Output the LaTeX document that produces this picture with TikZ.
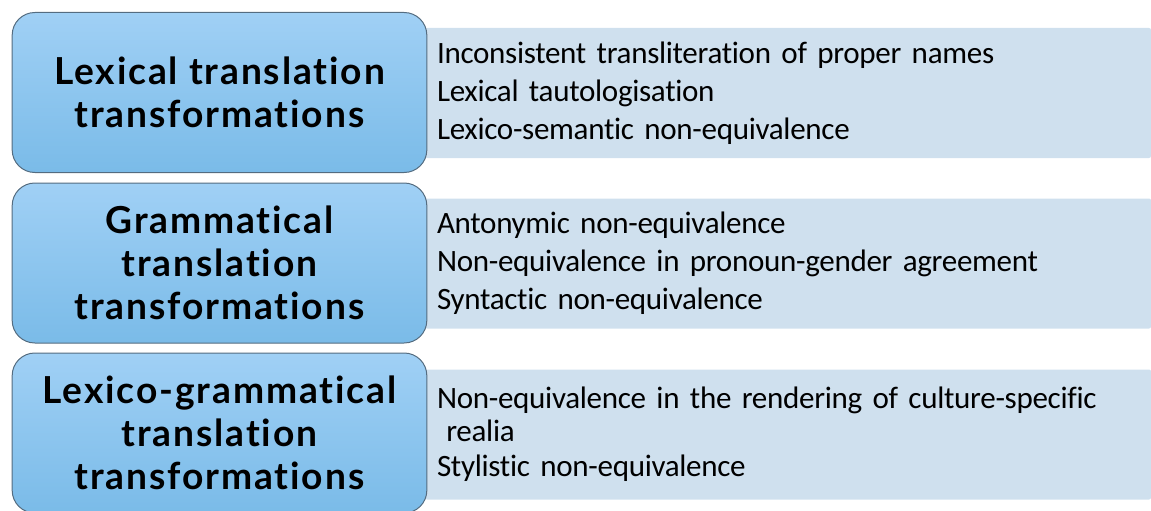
\documentclass[tikz,border=0pt]{standalone}
\usepackage{fontspec}
\setmainfont{Carlito}[Ligatures=NoCommon, WordSpace=0.7, LetterSpace=-1]
\newfontfamily\headfont{Lato}[Ligatures=NoCommon, LetterSpace=5]
\usetikzlibrary{positioning}

\definecolor{boxtop}{RGB}{160,208,245}
\definecolor{boxbot}{RGB}{122,187,232}
\definecolor{boxline}{RGB}{84,108,128}
\definecolor{panelfill}{RGB}{207,224,238}

\tikzset{every picture/.style={line width=0.75pt}}
\tikzset{
  kindbox/.style={draw=boxline, rounded corners=17pt, top color=boxtop, bottom color=boxbot,
    minimum width=311pt, minimum height=120pt, align=center, inner sep=0pt,
    font=\headfont\fontsize{27.9}{32.25}\selectfont\bfseries},
  listbox/.style={fill=panelfill, rounded corners=1.5pt, minimum width=544.5pt, minimum height=97.5pt,
    text width=526.5pt, inner xsep=9pt, inner ysep=0pt, align=left,
    font=\fontsize{23.3}{24.75}\selectfont}
}

\begin{document}
\begin{tikzpicture}[x=0.75pt,y=0.75pt,yscale=-1,xscale=1]
\useasboundingbox (0,0) rectangle (1151,510);

%Panels behind the boxes
\node [listbox] (lexlist) at (788,93) {Inconsistent transliteration of proper names\\[3.75pt]
Lexical tautologisation\\[3.75pt]
Lexico-semantic non-equivalence};
\node [listbox] (gramlist) at (788,263.5) {Antonymic non-equivalence\\[3.75pt]
Non-equivalence in pronoun-gender agreement\\[3.75pt]
Syntactic non-equivalence};
\node [listbox] (lexgramlist) at (788,434.5) {Non-equivalence in the rendering of culture-specific\\
\hspace*{7pt}realia\\[1.5pt]
Stylistic non-equivalence};

%Kinds of transformations
\node [kindbox] (lex) at (219.5,92.5) {Lexical translation\\transformations};
\node [kindbox] (gram) at (219.5,263) {Grammatical\\translation\\transformations};
\node [kindbox] (lexgram) at (219.5,433) {Lexico-grammatical\\translation\\transformations};

\end{tikzpicture}
\end{document}
